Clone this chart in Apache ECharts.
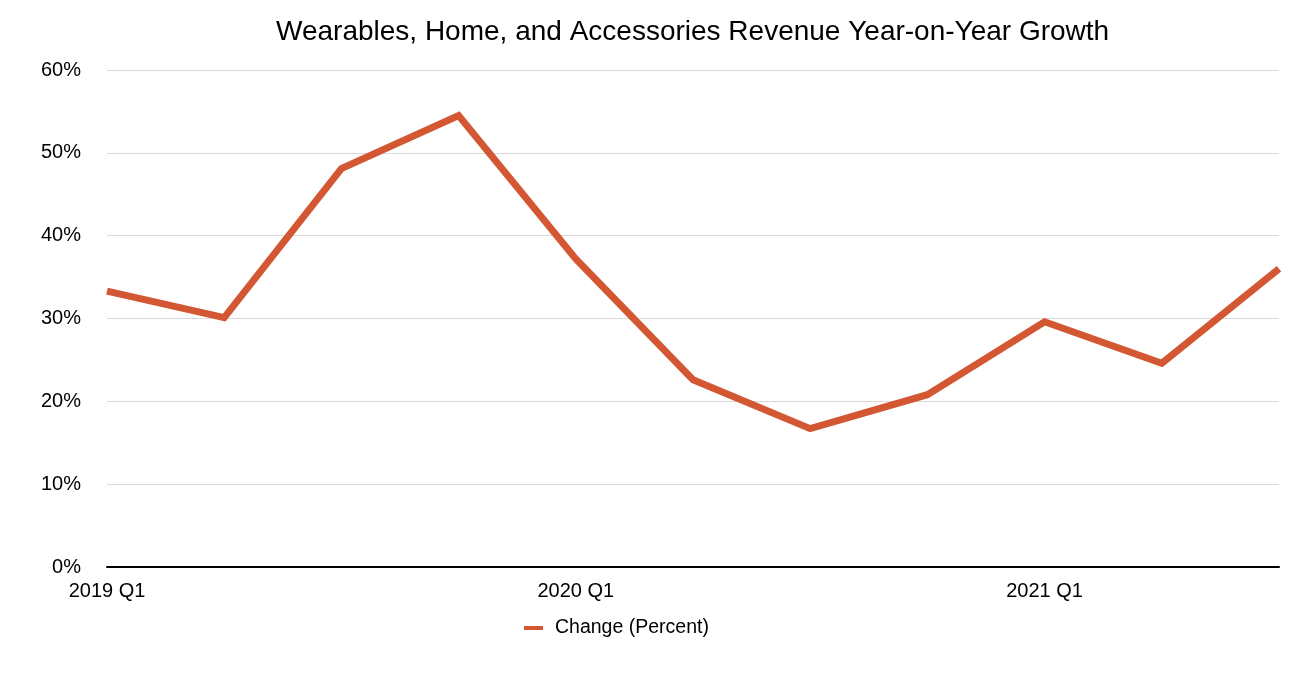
<!DOCTYPE html>
<html><head><meta charset="utf-8">
<script src="https://cdn.jsdelivr.net/npm/echarts@6/dist/echarts.min.js"></script>
<style>html,body{margin:0;padding:0;background:#fff}#c{width:1312px;height:694px}</style>
</head><body><div id="c"></div>
<script>
const categories = ["2019 Q1","2019 Q2","2019 Q3","2019 Q4","2020 Q1","2020 Q2","2020 Q3","2020 Q4","2021 Q1","2021 Q2","2021 Q3"];
const changePercent = [33.3, 30.1, 48.1, 54.5, 37.2, 22.6, 16.7, 20.8, 29.6, 24.6, 36.0];
const yTicks = [0, 10, 20, 30, 40, 50, 60];
const seriesName = "Change (Percent)";
const titleText = "Wearables, Home, and Accessories Revenue Year-on-Year Growth";

const font = "'Liberation Sans', Arial, Helvetica, sans-serif";
const chart = echarts.init(document.getElementById('c'), null, {renderer: 'canvas'});
chart.setOption({
  animation: false,
  backgroundColor: '#ffffff',
  title: {text: titleText, left: 271, top: 13,
    textStyle: {fontFamily: font, fontSize: 28, fontWeight: 'normal', color: '#000'}},
  legend: {data: [seriesName], top: 613, left: 519, itemWidth: 19, itemHeight: 4,
    icon: 'rect', itemGap: 10,
    textStyle: {fontFamily: font, fontSize: 19.5, color: '#000', padding: [0, 0, 0, 7]}},
  grid: {left: 107, right: 33, top: 70, bottom: 127},
  xAxis: {type: 'category', data: categories, boundaryGap: false,
    axisLine: {lineStyle: {color: '#000', width: 2}},
    axisTick: {show: false},
    axisLabel: {interval: 3, fontFamily: font, fontSize: 20, color: '#000', margin: 14}},
  yAxis: {type: 'value', min: yTicks[0], max: yTicks[yTicks.length-1], interval: 10,
    axisLine: {show: false}, axisTick: {show: false},
    splitLine: {lineStyle: {color: '#d9d9d9', width: 1}},
    axisLabel: {formatter: v => v + '%', fontFamily: font, fontSize: 20, color: '#000', margin: 26}},
  series: [{name: seriesName, type: 'line', data: changePercent, symbol: 'none',
    lineStyle: {color: '#d35733', width: 7, join: 'miter'}, itemStyle: {color: '#d35733'}}]
});
</script></body></html>
